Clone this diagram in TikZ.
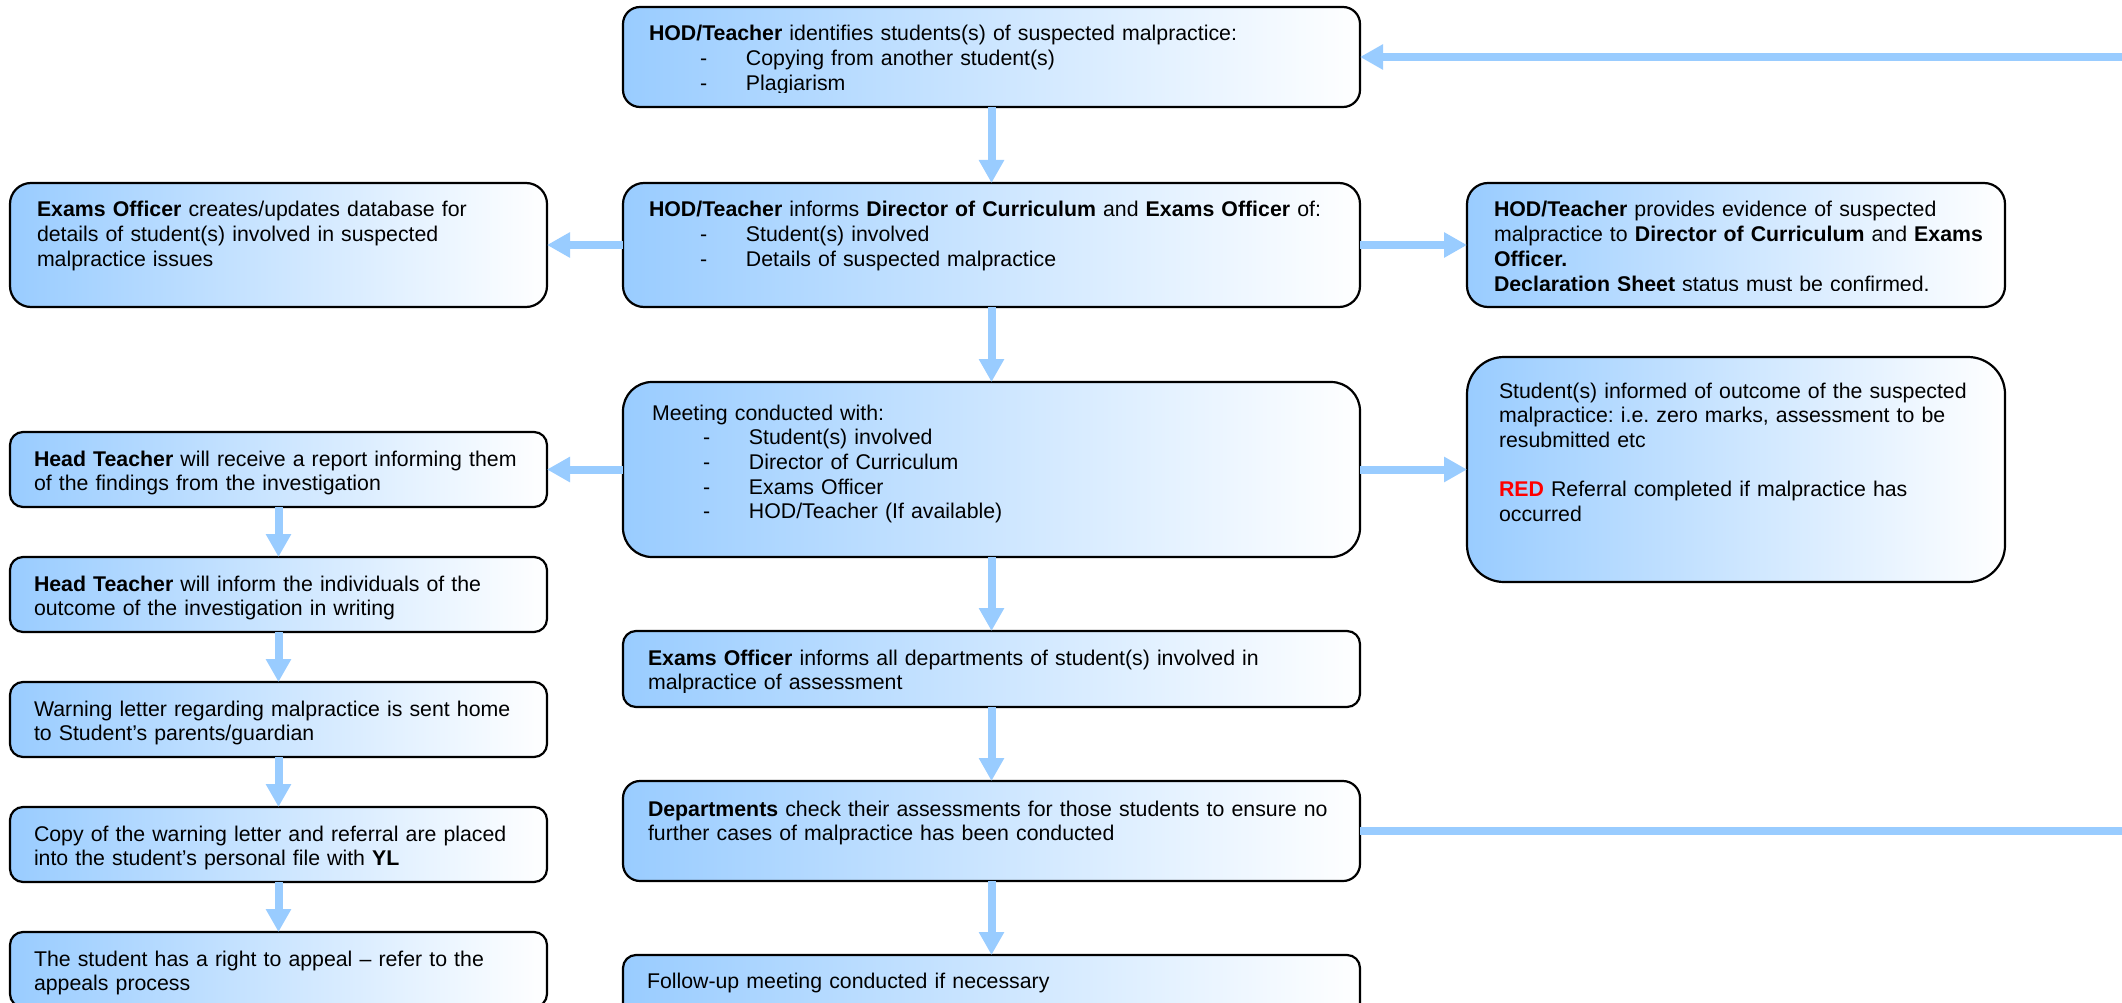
\documentclass[tikz,border=0pt]{standalone}
\usepackage{fontspec}
\setmainfont{Liberation Sans}
\usetikzlibrary{arrows.meta}
\definecolor{flowblue}{HTML}{99CCFF}
\definecolor{redtxt}{HTML}{FF0000}
\newcommand\fitem[1]{\hspace*{51pt}\makebox[46pt][l]{-}#1}
\tikzset{
  box/.style={draw=black, line width=2.2pt, left color=flowblue, right color=white,
    anchor=north west, inner sep=0pt, outer sep=0pt},
  txt/.style={anchor=base west, inner sep=0pt, text width=1400pt, align=left,
    font=\frenchspacing\fontsize{21.3pt}{24.7pt}\selectfont},
  flow/.style={draw=flowblue, line width=8pt, -{Triangle[length=23pt,width=24pt]}},
  plainflow/.style={draw=flowblue, line width=8pt},
  boxtext/.style n args={5}{path picture={
     \clip (path picture bounding box.north west) rectangle ([yshift=#4]path picture bounding box.south east);
     \node[txt] (#1) at ([xshift=#2, yshift=-#3]path picture bounding box.north west) {#5};}},
}
\begin{document}
\begin{tikzpicture}[x=1pt,y=1pt]
\clip (0,0) rectangle (2122,-1003);
\fill[white] (0,0) rectangle (2122,-1003);

% centre column
\node[box, minimum width=737pt, minimum height=100pt, rounded corners=17pt,
  boxtext={At}{26pt}{34pt}{14pt}{\textbf{HOD/Teacher} identifies students(s) of suspected malpractice:\\
  \fitem{Copying from another student(s)}\\ \fitem{Plagiarism}}] (A) at (623,-7) {};
\node[box, minimum width=737pt, minimum height=124pt, rounded corners=21pt,
  boxtext={Bt}{26pt}{34pt}{13pt}{\textbf{HOD/Teacher} informs \textbf{Director of Curriculum} and \textbf{Exams Officer} of:\\
  \fitem{Student(s) involved}\\ \fitem{Details of suspected malpractice}}] (B) at (623,-183) {};
\node[box, minimum width=737pt, minimum height=175pt, rounded corners=29pt,
  boxtext={Ct}{29pt}{38pt}{13pt}{Meeting conducted with:\\ \fitem{Student(s) involved}\\ \fitem{Director of Curriculum}\\
  \fitem{Exams Officer}\\ \fitem{HOD/Teacher (If available)}}] (C) at (623,-382) {};
\node[box, minimum width=737pt, minimum height=76pt, rounded corners=13pt,
  boxtext={Dt}{25pt}{34pt}{15pt}{\textbf{Exams Officer} informs all departments of student(s) involved in\\
  malpractice of assessment}] (D) at (623,-631) {};
\node[box, minimum width=737pt, minimum height=100pt, rounded corners=17pt,
  boxtext={Et}{25pt}{35pt}{13pt}{\textbf{Departments} check their assessments for those students to ensure no\\
  further cases of malpractice has been conducted}] (E) at (623,-781) {};
\node[box, minimum width=737pt, minimum height=76pt, rounded corners=13pt,
  boxtext={Ft}{24pt}{33pt}{13pt}{Follow-up meeting conducted if necessary}] (F) at (623,-955) {};

% left column
\node[box, minimum width=537pt, minimum height=124pt, rounded corners=21pt,
  boxtext={L1t}{27pt}{34pt}{13pt}{\textbf{Exams Officer} creates/updates database for\\
  details of student(s) involved in suspected\\ malpractice issues}] (L1) at (10,-183) {};
\node[box, minimum width=537pt, minimum height=75pt, rounded corners=13pt,
  boxtext={L2t}{24pt}{34pt}{13pt}{\textbf{Head Teacher} will receive a report informing them\\
  of the findings from the investigation}] (L2) at (10,-432) {};
\node[box, minimum width=537pt, minimum height=75pt, rounded corners=13pt,
  boxtext={L3t}{24pt}{34pt}{13pt}{\textbf{Head Teacher} will inform the individuals of the\\
  outcome of the investigation in writing}] (L3) at (10,-557) {};
\node[box, minimum width=537pt, minimum height=75pt, rounded corners=13pt,
  boxtext={L4t}{24pt}{34pt}{13pt}{Warning letter regarding malpractice is sent home\\
  to Student’s parents/guardian}] (L4) at (10,-682) {};
\node[box, minimum width=537pt, minimum height=75pt, rounded corners=13pt,
  boxtext={L5t}{24pt}{34pt}{12pt}{Copy of the warning letter and referral are placed\\
  into the student’s personal file with \textbf{YL}}] (L5) at (10,-807) {};
\node[box, minimum width=537pt, minimum height=75pt, rounded corners=13pt,
  boxtext={L6t}{24pt}{34pt}{13pt}{The student has a right to appeal – refer to the\\
  appeals process}] (L6) at (10,-932) {};

% right column
\node[box, minimum width=538pt, minimum height=124pt, rounded corners=21pt,
  boxtext={R1t}{27pt}{34pt}{17pt}{\textbf{HOD/Teacher} provides evidence of suspected\\
  malpractice to \textbf{Director of Curriculum} and \textbf{Exams}\\ \textbf{Officer.}\\
  \textbf{Declaration Sheet} status must be confirmed.}] (R1) at (1467,-183) {};
\node[box, minimum width=538pt, minimum height=225pt, rounded corners=37pt,
  boxtext={R2t}{32pt}{41pt}{13pt}{Student(s) informed of outcome of the suspected\\
  malpractice: i.e. zero marks, assessment to be\\ resubmitted etc\\[24.7pt]
  \textcolor{redtxt}{\textbf{RED}} Referral completed if malpractice has\\ occurred}] (R2) at (1467,-357) {};

% connectors
\coordinate (inA) at (2140,-57);
\coordinate (outE) at (2140,-831);
\draw[flow] (inA) -- (A.east);
\draw[flow] (A.south) -- (B.north);
\draw[flow] (B.west) -- (L1.east);
\draw[flow] (B.east) -- (R1.west);
\draw[flow] (B.south) -- (C.north);
\draw[flow] (C.west) -- (L2.east);
\draw[flow] (C.east) -- (R2.west);
\draw[flow] (C.south) -- (D.north);
\draw[flow] (D.south) -- (E.north);
\draw[flow] (E.south) -- (F.north);
\draw[plainflow] (E.east) -- (outE);
\draw[flow] (L2.south) -- (L3.north);
\draw[flow] (L3.south) -- (L4.north);
\draw[flow] (L4.south) -- (L5.north);
\draw[flow] (L5.south) -- (L6.north);
\end{tikzpicture}
\end{document}
